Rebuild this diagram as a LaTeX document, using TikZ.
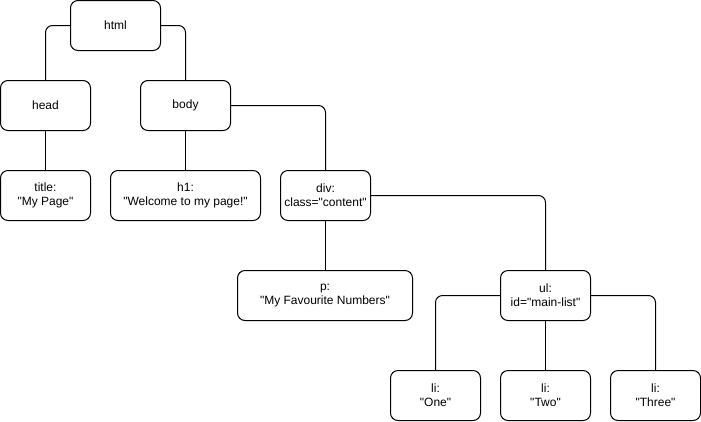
\documentclass[tikz,border=0pt]{standalone}
\usepackage{fontspec}
\setmainfont{Liberation Sans}[Ligatures=TeXOff]
\begin{document}
\begin{tikzpicture}[x=1pt,y=-1pt,
  box/.style={draw=black,line width=1pt,rounded corners=7.5pt,fill=white,
    minimum height=50pt,inner sep=0pt,align=center,
    font=\fontsize{12}{14}\selectfont},
  w90/.style={minimum width=90pt},
  link/.style={draw=black,line width=1pt,rounded corners=7pt}]
\useasboundingbox (0,0) rectangle (701,421);
\node[box,w90] (html) at (115.5,25.5) {html};
\node[box,w90] (head) at (45.5,105.5) {head};
\node[box,w90] (body) at (185.5,105.5) {body};
\node[box,w90] (title) at (45.5,195.5) {title:\\"My Page"};
\node[box,minimum width=150pt] (h1) at (185.5,195.5) {h1:\\"Welcome to my page!"};
\node[box,w90] (div) at (325.5,195.5) {div:\\class="content"};
\node[box,minimum width=175pt] (p) at (325,295.5) {p:\\"My Favourite Numbers"};
\node[box,w90] (ul) at (545.5,295.5) {ul:\\id="main-list"};
\node[box,w90] (li1) at (435.5,395.5) {li:\\"One"};
\node[box,w90] (li2) at (545.5,395.5) {li:\\"Two"};
\node[box,w90] (li3) at (655.5,395.5) {li:\\"Three"};
\path[link] (html.west) -| (head.north);
\path[link] (html.east) -| (body.north);
\path[link] (head.south) -- (title.north);
\path[link] (body.south) -- (h1.north);
\path[link] (body.east) -| (div.north);
\path[link] (div.south) -- (div.south |- p.north);
\path[link] (div.east) -| (ul.north);
\path[link] (ul.west) -| (li1.north);
\path[link] (ul.south) -- (li2.north);
\path[link] (ul.east) -| (li3.north);
\end{tikzpicture}
\end{document}
